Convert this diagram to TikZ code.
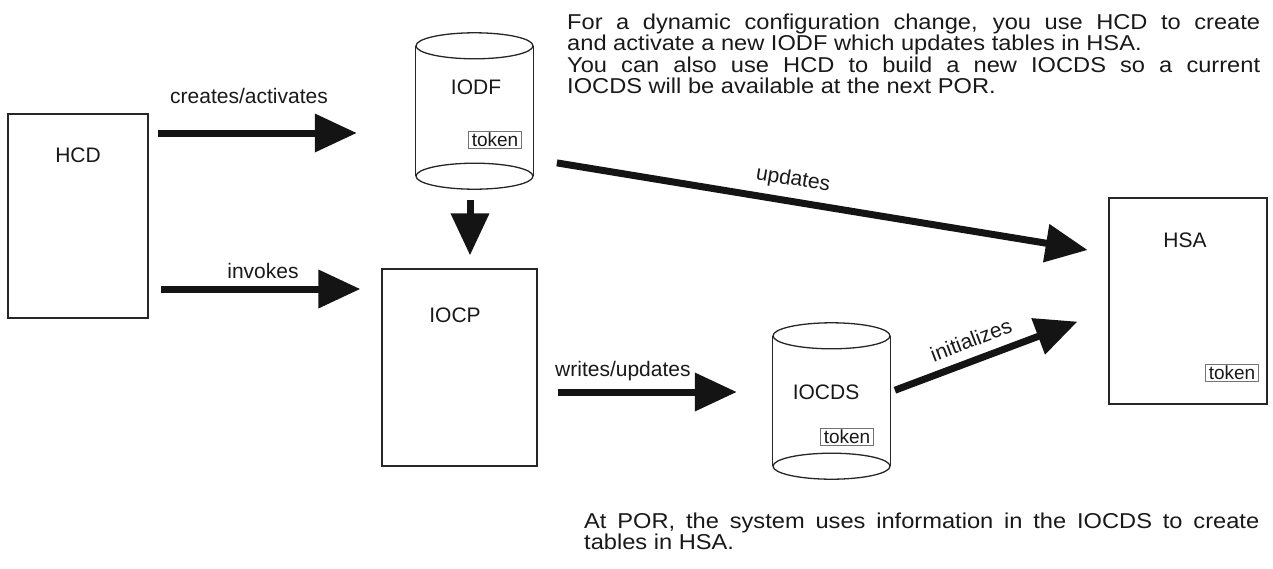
\documentclass[tikz,border=0pt]{standalone}
\usepackage{fontspec}
\setmainfont{Liberation Sans}
\newfontfamily\notefont[FakeStretch=1.1]{Liberation Sans}
\usetikzlibrary{arrows.meta}
\newcommand\cylshape[1]{%
  \fill[white] ([yshift=-13pt]#1.north west) rectangle ([yshift=13pt]#1.south east);
  \draw[cylbody] ([yshift=-13pt]#1.north west) -- ([yshift=13pt]#1.south west)
                 ([yshift=-13pt]#1.north east) -- ([yshift=13pt]#1.south east);
  \draw[cylbody, fill=white] ([yshift=-13pt]#1.north) ellipse [x radius=58.5pt, y radius=13pt];
  \draw[cylbody] ([yshift=13pt]#1.south) ellipse [x radius=58.5pt, y radius=13pt];
}
\begin{document}
\begin{tikzpicture}[x=1pt,y=-1pt,
  every node/.style={font=\fontsize{21}{21}\selectfont, inner sep=0pt, text=black!90},
  box/.style={draw=black!85, line width=1.3pt, fill=white, inner sep=0pt},
  cylbody/.style={draw=black!85, line width=1.3pt},
  tok/.style={draw=black!55, line width=0.7pt, inner xsep=3pt, inner ysep=1.5pt, font=\fontsize{19}{19}\selectfont},
  bigarrow/.style={draw=black!92, line width=7pt, -{Triangle[length=42pt,width=37pt]}},
  note/.style={anchor=north west, align=left, font=\notefont\fontsize{21.5}{20.5}\selectfont},
]
\useasboundingbox (0,0) rectangle (1273,568);

% boxes
\node[box, minimum width=140pt, minimum height=204pt] (hcd) at (78,216) {};
\node (hcdlbl) at (78,155) {HCD};
\node[box, minimum width=155pt, minimum height=197pt] (iocp) at (459.5,367.5) {};
\node (iocplbl) at (455,315) {IOCP};
\node[box, minimum width=158pt, minimum height=206pt] (hsa) at (1188,301) {};
\node (hsalbl) at (1185,240) {HSA};
\node[tok] (hsatok) at (1232,373) {token};

% cylinders
\node[minimum width=117pt, minimum height=156pt] (iodf) at (474.5,111) {};
\cylshape{iodf}
\node (iodflbl) at (476,87) {IODF};
\node[tok] (iodftok) at (495,140) {token};

\node[minimum width=117pt, minimum height=156pt] (iocds) at (831.5,401) {};
\cylshape{iocds}
\node (iocdslbl) at (826,392) {IOCDS};
\node[tok] (iocdstok) at (847,437) {token};

% arrows
\draw[bigarrow, shorten <=9pt, shorten >=59pt] (hcd.east |- 0,133) -- (iodf.west |- 0,133);
\draw[bigarrow, shorten <=12pt, shorten >=21pt] (hcd.east |- 0,289) -- (iocp.west |- 0,289);
\draw[bigarrow, shorten <=11pt, shorten >=13pt] (iodf.south -| 470,0) -- (iocp.north -| 470,0);
\draw[bigarrow, shorten <=20pt, shorten >=36pt] (iocp.east |- 0,392) -- (iocds.west |- 0,392);
\draw[bigarrow, shorten <=5pt, shorten >=33pt] (iocds.east |- 0,392) -- (hsa.west |- 0,310);
\draw[bigarrow, shorten <=24pt, shorten >=21pt] (iodf.east |- 0,159) -- (hsa.west |- 0,253.4);

% arrow labels
\node (l1) at (249,96) {creates/activates};
\node (l2) at (263,271) {invokes};
\node[anchor=west] (l3) at (555,371) {writes/updates};
\node[rotate=20.9] (l4) at (971,340) {initializes};
\node[rotate=-9.3] (l5) at (793,180) {updates};

% notes
\node[note] (toptext) at (567,14)
  {\makebox[693pt][s]{For a dynamic configuration change, you use HCD to create}\\
   and activate a new IODF which updates tables in HSA.\\[2pt]
   \makebox[693pt][s]{You can also use HCD to build a new IOCDS so a current}\\
   IOCDS will be available at the next POR.};
\node[note] (bottext) at (584,513)
  {\makebox[675pt][s]{At POR, the system uses information in the IOCDS to create}\\
   tables in HSA.};
\end{tikzpicture}
\end{document}
